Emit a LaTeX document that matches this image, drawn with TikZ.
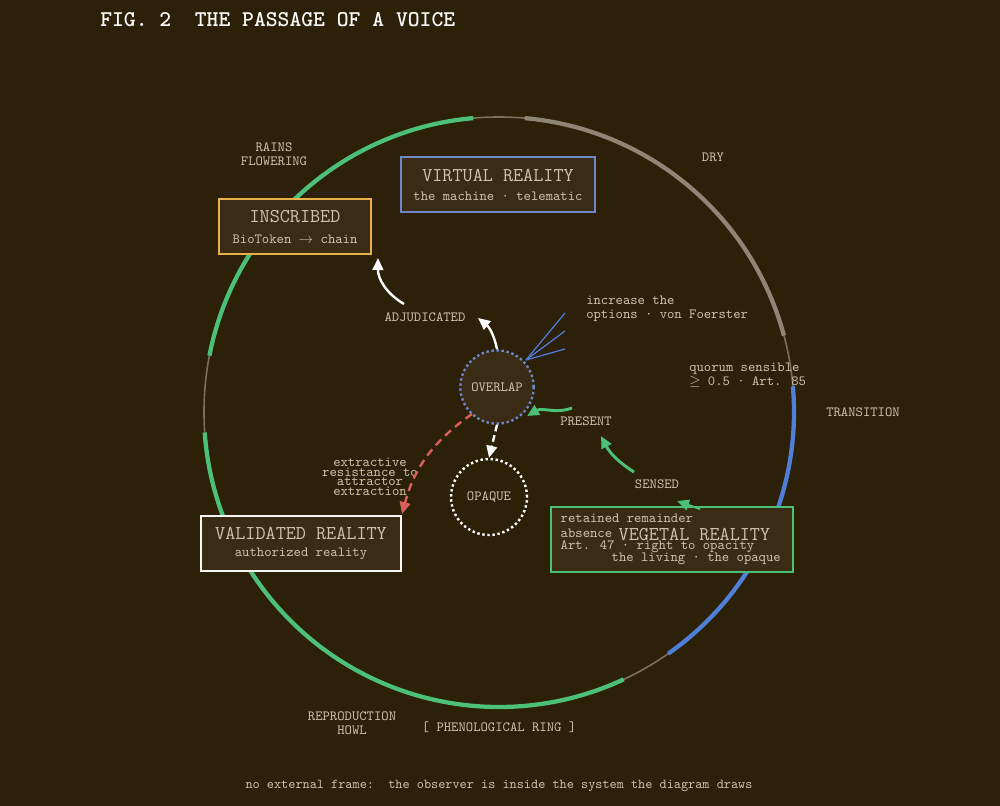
\documentclass[tikz,border=0pt]{standalone}
\usepackage{fontspec}
\usetikzlibrary{arrows.meta}
\begin{document}
\ttfamily
\begin{tikzpicture}[x=0.75pt,y=-0.75pt,
  lbl/.style={text=labc,font=\ttfamily\fontsize{10.5}{10.5}\selectfont,inner sep=0pt,align=center},
  box/.style={draw,line width=1.3pt,fill=boxf,inner sep=0pt,minimum height=41.25pt},
  ttl/.style={font=\ttfamily\fontsize{14.7}{15}\selectfont,text=labc},
  sub/.style={font=\ttfamily\fontsize{10.5}{11}\selectfont,text=labc},
  ring/.style={line width=3.2pt},
  tip/.style={-{Triangle[length=9pt,width=8pt]}},
]
\definecolor{bg}{HTML}{2C2008}
\definecolor{boxf}{HTML}{3A2C14}
\definecolor{labc}{HTML}{CFC3AE}
\definecolor{grn}{HTML}{4CBF78}
\definecolor{tanc}{HTML}{8F8577}
\definecolor{blu}{HTML}{4F7FD8}
\definecolor{thinc}{HTML}{7A6E5E}
\definecolor{org}{HTML}{E8B04A}
\definecolor{vblu}{HTML}{6F86C8}
\definecolor{redc}{HTML}{D9605A}
\fill[bg] (0,0) rectangle (1000,806);
\useasboundingbox (0,0) rectangle (1000,806);
\node[anchor=west,text=white!92!labc,font=\ttfamily\bfseries\fontsize{16.9}{17}\selectfont,inner sep=0pt] (title) at (100,20) {FIG. 2\ \ THE PASSAGE OF A VOICE};
% ring
\coordinate (c) at (499,412);
\draw[thinc,line width=1.2pt] (c) circle[radius=295];
\draw[grn,ring] (c) ++(-95:295) arc[start angle=-95,end angle=-169,radius=295];
\draw[grn,ring] (c) ++(-184:295) arc[start angle=-184,end angle=-295,radius=295];
\draw[blu,ring] (c) ++(55:295) arc[start angle=55,end angle=-5,radius=295];
\draw[tanc,ring] (c) ++(-15:295) arc[start angle=-15,end angle=-85,radius=295];
% ring labels
\node[lbl] (rains) at (274,154) {RAINS\\FLOWERING};
\node[lbl] (dry) at (713,157) {DRY};
\node[lbl] (trans) at (863,412) {TRANSITION};
\node[lbl,align=left,anchor=west] (quorum) at (689,375) {quorum sensible\\$\geq$ 0.5 · Art. 85};
\node[lbl] (repro) at (352,723) {REPRODUCTION\\HOWL};
\node[lbl] (ring) at (499,727) {[ PHENOLOGICAL RING ]};
\node[lbl,font=\ttfamily\fontsize{10.2}{10}\selectfont] (foot) at (499,786) {no external frame:\ \ the observer is inside the system the diagram draws};
% boxes
\node[box,draw=org,minimum width=114pt] (insc) at (295,226.5) {};
\node[ttl] at (295,217) {INSCRIBED};
\node[sub] at (295,239) {BioToken $\rightarrow$ chain};
\node[box,draw=vblu,minimum width=145.5pt] (virt) at (498,184.5) {};
\node[ttl] at (498,175) {VIRTUAL REALITY};
\node[sub] at (498,196) {the machine · telematic};
\node[box,draw=white!85!labc,minimum width=150pt] (valid) at (301,543.5) {};
\node[ttl] at (301,533) {VALIDATED REALITY};
\node[sub] at (301,554) {authorized reality};
\node[box,draw=grn,minimum width=181.5pt,minimum height=48.75pt] (veg) at (672,539.5) {};
\node[sub,anchor=west] at (556,518) {retained remainder};
\node[sub,anchor=west] at (556,533) {absence};
\node[ttl,anchor=west] at (614,534) {VEGETAL REALITY};
\node[sub,anchor=west] at (556,547) {Art. 47 · right to opacity};
\node[sub,anchor=west] at (607,559) {the living · the opaque};
% circles
\node[circle,draw=vblu,dotted,line width=1.8pt,fill=boxf,minimum size=55pt,inner sep=0pt] (over) at (497,387) {};
\node[lbl] at (497,387) {OVERLAP};
\node[circle,draw=white,dotted,line width=1.8pt,minimum size=57pt,inner sep=0pt] (opq) at (489,497) {};
\node[lbl] at (489,497) {OPAQUE};
% labels
\node[lbl] (adj) at (425,317) {ADJUDICATED};
\node[lbl,align=left,anchor=west] (incr) at (586,309) {increase the\\options · von Foerster};
\node[lbl] (pres) at (586,421) {PRESENT};
\node[lbl] (sens) at (657,484) {SENSED};
\node[lbl,font=\ttfamily\fontsize{10.5}{5.5}\selectfont] (extr) at (370,477) {extractive\\resistance to\\attractor\\extraction};
% connectors
\coordinate (a1) at (404,304); \coordinate (a1e) at (378,258);
\draw[white,line width=1.8pt,tip] (a1) to[bend left=30] (a1e);
\coordinate (a2e) at (478,318);
\draw[white,line width=1.8pt,tip] (over.north) to[bend right=20] (a2e);
\coordinate (b0) at (526,360);
\foreach \y in {313,331,349} \draw[blu,line width=0.9pt] (b0) -- (565,\y);
\coordinate (g1) at (572,408); \coordinate (g1e) at (527,416);
\draw[grn,line width=2.2pt,tip] (g1) to[out=200,in=30] (g1e);
\coordinate (g2) at (634,472); \coordinate (g2e) at (601,436);
\draw[grn,line width=2.2pt,tip] (g2) to[bend left=15] (g2e);
\coordinate (g3) at (700,509); \coordinate (g3e) at (677,501);
\draw[grn,line width=1.5pt,tip] (g3) -- (g3e);
\coordinate (r1) at (472,414); \coordinate (r1e) at (402,514);
\draw[redc,line width=1.8pt,dash pattern=on 6pt off 4pt,tip] (r1) to[bend right=20] (r1e);
\draw[white,line width=1.8pt,dash pattern=on 5pt off 3pt,tip] (over.south) -- (opq.north);
\end{tikzpicture}
\end{document}
